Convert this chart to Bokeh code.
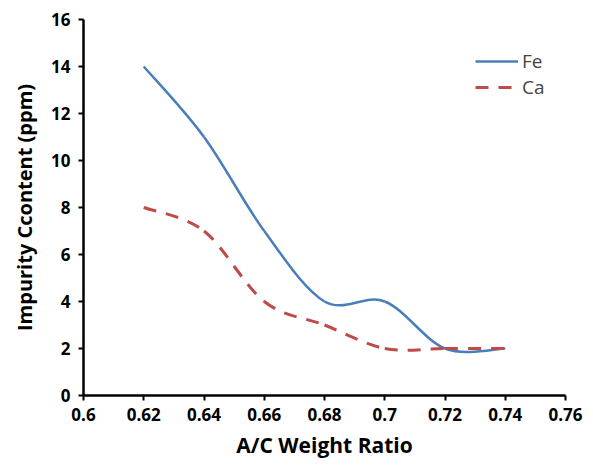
from bokeh.plotting import figure
from bokeh.models import Range1d, Legend, LegendItem, FixedTicker, ColumnDataSource
from bokeh.embed import file_html
from bokeh.resources import INLINE

ratio = [0.62, 0.64, 0.66, 0.68, 0.70, 0.72, 0.74]
fe = [14, 11, 7, 4, 4, 2, 2]
ca = [8, 7, 4, 3, 2, 2, 2]
x_ticks = [0.6, 0.62, 0.64, 0.66, 0.68, 0.7, 0.72, 0.74, 0.76]
x_tick_labels = ["0.6", "0.62", "0.64", "0.66", "0.68", "0.7", "0.72", "0.74", "0.76"]
y_ticks = [0, 2, 4, 6, 8, 10, 12, 14, 16]

BLUE = "#4A7EBB"
RED = "#BE4B48"
FONT = "Open Sans"
DASH = "13 10"


def smooth_segments(xs, ys):
    """Excel-style smoothed line: cubic Bezier control points per segment."""
    n = len(xs)
    d = dict(x0=[], y0=[], x1=[], y1=[], cx0=[], cy0=[], cx1=[], cy1=[])
    for i in range(n - 1):
        p0 = (xs[i - 1], ys[i - 1]) if i > 0 else (xs[i], ys[i])
        p1 = (xs[i], ys[i])
        p2 = (xs[i + 1], ys[i + 1])
        p3 = (xs[i + 2], ys[i + 2]) if i + 2 < n else p2
        d["x0"].append(p1[0]); d["y0"].append(p1[1])
        d["x1"].append(p2[0]); d["y1"].append(p2[1])
        d["cx0"].append(p1[0] + (p2[0] - p0[0]) / 6)
        d["cy0"].append(p1[1] + (p2[1] - p0[1]) / 6)
        d["cx1"].append(p2[0] - (p3[0] - p1[0]) / 6)
        d["cy1"].append(p2[1] - (p3[1] - p1[1]) / 6)
    return ColumnDataSource(d)


p = figure(width=593, height=468, output_backend="svg", toolbar_location=None,
           x_range=Range1d(0.6, 0.76), y_range=Range1d(0, 16),
           min_border_left=83, min_border_right=28, min_border_top=19, min_border_bottom=73)
p.outline_line_color = None
p.grid.visible = False
p.background_fill_color = "white"
p.border_fill_color = "white"

p.xaxis.ticker = FixedTicker(ticks=x_ticks)
p.xaxis.major_label_overrides = {t: l for t, l in zip(x_ticks, x_tick_labels)}
p.yaxis.ticker = FixedTicker(ticks=y_ticks)

for ax in (p.xaxis, p.yaxis):
    ax.axis_line_width = 2.5
    ax.axis_line_color = "black"
    ax.major_tick_line_width = 2
    ax.major_tick_line_color = "black"
    ax.major_tick_out = 5
    ax.major_tick_in = 0
    ax.minor_tick_line_color = None
    ax.major_label_text_font = FONT
    ax.major_label_text_font_style = "bold"
    ax.major_label_text_font_size = "17px"
    ax.major_label_text_color = "black"
    ax.axis_label_text_font = FONT
    ax.axis_label_text_font_style = "bold"
    ax.axis_label_text_font_size = "20px"
    ax.axis_label_text_color = "black"

p.xaxis.axis_label_text_font_size = "21px"
p.xaxis.axis_label = "A/C Weight Ratio"
p.yaxis.axis_label = "Impurity Ccontent (ppm)"
p.xaxis.major_label_standoff = 7
p.yaxis.major_label_standoff = 8
p.xaxis.axis_label_standoff = 7
p.yaxis.axis_label_standoff = 10

p.bezier(x0="x0", y0="y0", x1="x1", y1="y1", cx0="cx0", cy0="cy0", cx1="cx1", cy1="cy1",
         source=smooth_segments(ratio, fe), line_color=BLUE, line_width=2.5)
p.bezier(x0="x0", y0="y0", x1="x1", y1="y1", cx0="cx0", cy0="cy0", cx1="cx1", cy1="cy1",
         source=smooth_segments(ratio, ca), line_color=RED, line_width=3, line_dash=DASH)

# legend proxies
fe_leg = p.line([float("nan")], [float("nan")], line_color=BLUE, line_width=2.5)
ca_leg = p.line([float("nan")], [float("nan")], line_color=RED, line_width=3, line_dash=DASH)

legend = Legend(items=[LegendItem(label="Fe", renderers=[fe_leg]),
                       LegendItem(label="Ca", renderers=[ca_leg])],
                location=(392, 295), padding=0, margin=0, spacing=0,
                glyph_width=43, glyph_height=26, label_height=26, label_standoff=4,
                label_text_font=FONT, label_text_font_size="19px",
                border_line_color=None, background_fill_alpha=0)
p.add_layout(legend, "center")

open("out.html", "w").write(file_html(p, INLINE))
